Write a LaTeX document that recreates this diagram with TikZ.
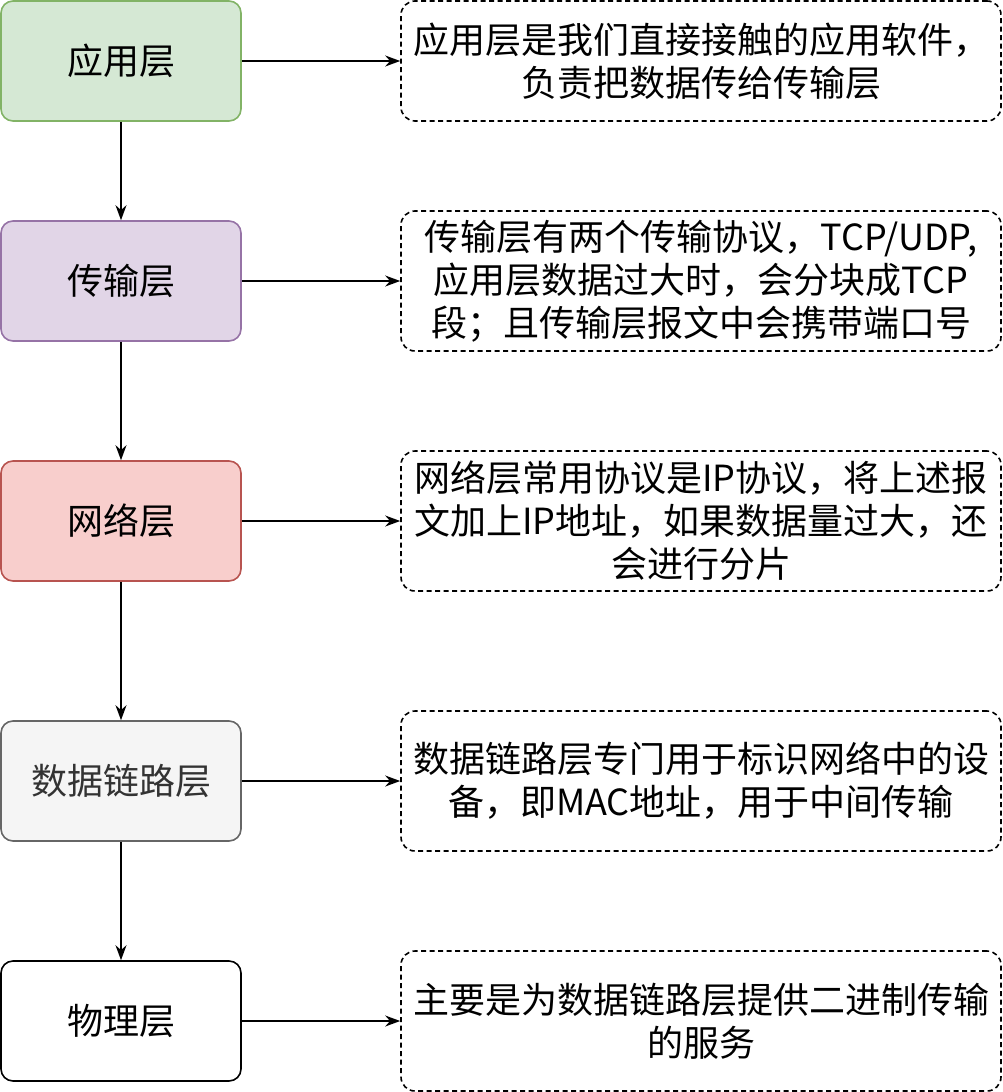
\documentclass[tikz,border=0pt]{standalone}
\usepackage{fontspec}
\setmainfont{Noto Sans CJK SC}
\usetikzlibrary{arrows.meta}

\definecolor{appfill}{HTML}{D5E8D4}
\definecolor{appline}{HTML}{82B366}
\definecolor{transfill}{HTML}{E1D5E7}
\definecolor{transline}{HTML}{9673A6}
\definecolor{netfill}{HTML}{F8CECC}
\definecolor{netline}{HTML}{B85450}
\definecolor{linkfill}{HTML}{F5F5F5}
\definecolor{linkline}{HTML}{666666}
\definecolor{linktext}{HTML}{333333}

\begin{document}
\begin{tikzpicture}[x=1pt, y=-1pt, >={Stealth[length=15pt, width=11pt]},
    layer/.style={draw, line width=1.6pt, rounded corners=12pt, minimum width=240pt,
        minimum height=120pt, inner sep=0pt, font=\fontsize{36}{43}\selectfont},
    note/.style={draw, dashed, dash pattern=on 5pt off 3.5pt, line width=1.6pt,
        rounded corners=14pt, minimum width=600pt, inner sep=0pt, align=center,
        font=\fontsize{36}{43}\selectfont}]
                \useasboundingbox (0,0) rectangle (1002,1092);

                % Layers
                \node [layer, fill=appfill, draw=appline] (app) at (121,61) {应用层};
                \node [layer, fill=transfill, draw=transline] (trans) at (121,281) {传输层};
                \node [layer, fill=netfill, draw=netline] (net) at (121,521) {网络层};
                \node [layer, fill=linkfill, draw=linkline, text=linktext] (link) at (121,781) {数据链路层};
                \node [layer, fill=white, draw=black] (phys) at (121,1021) {物理层};

                % Notes
                \node [note, minimum height=120pt] (appnote) at (701,61)
                    {应用层是我们直接接触的应用软件，\\负责把数据传给传输层};
                \node [note, minimum height=140pt] (transnote) at (701,281)
                    {传输层有两个传输协议，TCP/UDP,\\应用层数据过大时，会分块成TCP\\段；且传输层报文中会携带端口号};
                \node [note, minimum height=140pt] (netnote) at (701,521)
                    {网络层常用协议是IP协议，将上述报\\文加上IP地址，如果数据量过大，还\\会进行分片};
                \node [note, minimum height=140pt] (linknote) at (701,781)
                    {数据链路层专门用于标识网络中的设\\备，即MAC地址，用于中间传输};
                \node [note, minimum height=140pt] (physnote) at (701,1021)
                    {主要是为数据链路层提供二进制传输\\的服务};

                % Arrows down
                \draw [->, line width=1.6pt] (app) -- (trans);
                \draw [->, line width=1.6pt] (trans) -- (net);
                \draw [->, line width=1.6pt] (net) -- (link);
                \draw [->, line width=1.6pt] (link) -- (phys);

                % Arrows right
                \draw [->, line width=1.6pt] (app) -- (appnote);
                \draw [->, line width=1.6pt] (trans) -- (transnote);
                \draw [->, line width=1.6pt] (net) -- (netnote);
                \draw [->, line width=1.6pt] (link) -- (linknote);
                \draw [->, line width=1.6pt] (phys) -- (physnote);
\end{tikzpicture}
\end{document}
